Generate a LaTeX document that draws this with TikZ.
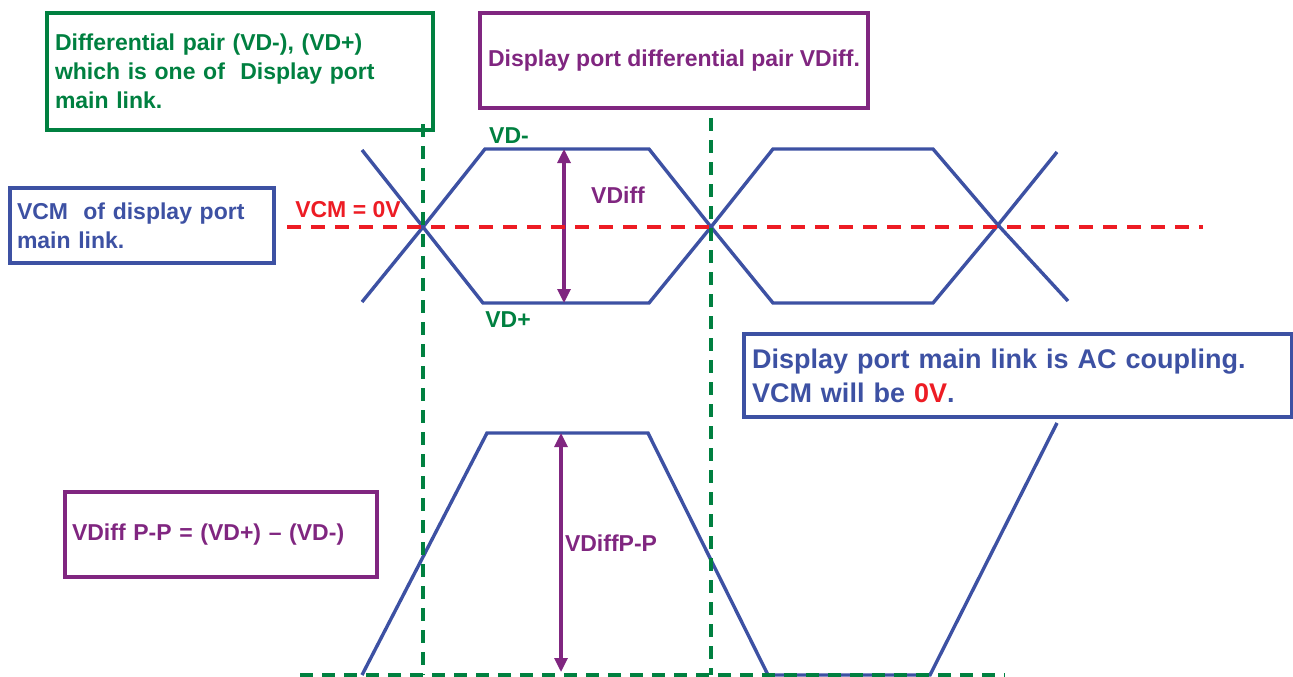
\documentclass[tikz,border=0pt]{standalone}
\usepackage{fontspec}
\setmainfont{Liberation Sans}
\usetikzlibrary{arrows.meta}

\definecolor{dpgreen}{RGB}{0,128,64}
\definecolor{dppurple}{RGB}{128,38,128}
\definecolor{dpblue}{RGB}{61,81,163}
\definecolor{dpred}{RGB}{237,28,36}
\newcommand{\lbfont}{\fontsize{23}{29}\selectfont\bfseries}

\begin{document}
\begin{tikzpicture}[x=1pt, y=-1pt, >={Triangle[length=14pt,width=13pt]},
    wave/.style={dpblue, line width=3.4pt},
    note/.style={draw, line width=3.2pt, inner sep=0pt, align=left, font=\lbfont},
    lbl/.style={font=\lbfont, inner sep=0pt},
    greendash/.style={dpgreen, line width=3.4pt, dash pattern=on 13pt off 9pt},
    reddash/.style={dpred, line width=3.4pt, dash pattern=on 14pt off 10pt}]

    \useasboundingbox (0,0) rectangle (1293,677);

    % Notes
    \node[note, dpgreen, minimum width=386pt, minimum height=117pt, text width=370pt] (pairbox) at (240,71.5)
        {Differential pair (VD-), (VD+)\\which is one of\ \ Display port\\main link.};
    \node[note, dppurple, minimum width=388pt, minimum height=95pt, align=center] (diffbox) at (674,60.5)
        {Display port differential pair VDiff.};
    \node[note, dpblue, minimum width=264pt, minimum height=75pt, text width=250pt] (vcmbox) at (142,225.5)
        {VCM\ \ of display port\\main link.};
    \node[note, dppurple, minimum width=312pt, minimum height=85pt, text width=298pt] (ppbox) at (221,534.5)
        {VDiff P-P = (VD+) -- (VD-)};
    \node[note, dpblue, minimum width=548pt, minimum height=83pt, text width=532pt,
          font=\fontsize{27}{34}\selectfont\bfseries] (acbox) at (1018,375.5)
        {Display port main link is AC coupling.\\VCM will be {\color{dpred}0V}.};

    % Eye diagram
    \draw[wave] (362,150) -- (423,227) -- (483,303) -- (649,303) -- (711,227) -- (773,149)
        -- (933,149) -- (998,225) -- (1068,301);
    \draw[wave] (362,302) -- (423,227) -- (485,149) -- (649,149) -- (711,227) -- (773,303)
        -- (933,303) -- (998,225) -- (1057,152);

    % Differential signal
    \draw[wave] (362,675) -- (487,433) -- (648,433) -- (768,675) -- (930,675) -- (1057,423);

    % Amplitudes
    \coordinate (vdhi) at (564,149);
    \coordinate (vdlo) at (564,303);
    \coordinate (pphi) at (561,433);
    \coordinate (pplo) at (561,672);
    \draw[<->, dppurple, line width=3.2pt] (vdhi) -- (vdlo);
    \draw[<->, dppurple, line width=3.2pt] (pphi) -- (pplo);

    % Reference lines
    \draw[reddash] (287,227) -- (1203,227);
    \draw[greendash] (423,124) -- (423,675);
    \draw[greendash] (711,118) -- (711,675);
    \draw[greendash] (300,675) -- (1005,675);

    % Labels
    \node[lbl, dpred] (vcmlbl) at (348,210) {VCM = 0V};
    \node[lbl, dpgreen] (vdminus) at (509,136) {VD-};
    \node[lbl, dpgreen] (vdplus) at (508,320) {VD+};
    \node[lbl, dppurple] (vdifflbl) at (618,195) {VDiff};
    \node[lbl, dppurple] (pplbl) at (611,543) {VDiffP-P};
\end{tikzpicture}
\end{document}
